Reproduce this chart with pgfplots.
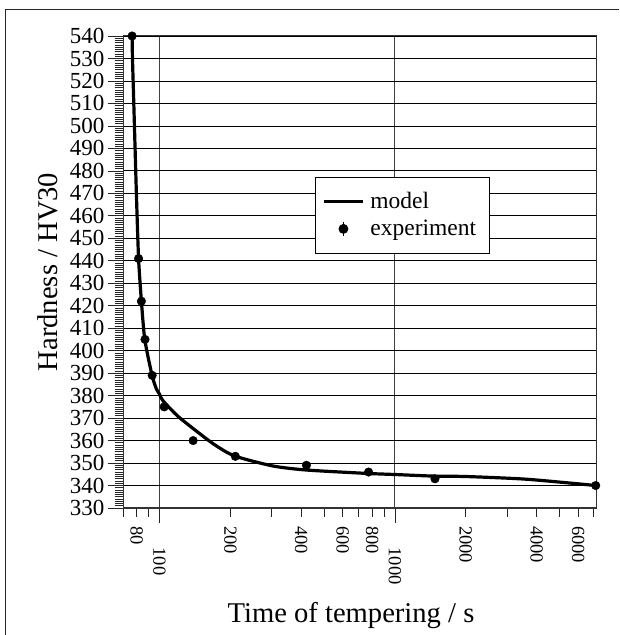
\documentclass[border=0pt]{standalone}
\usepackage{pgfplots}
\pgfplotsset{compat=1.18}
\usepackage{fontspec}
\setmainfont{Liberation Serif}
\begin{document}
\begin{tikzpicture}
\useasboundingbox (0pt,0pt) rectangle (619pt,635pt);
\draw[line width=1pt, black!85] (5.5pt,0pt) -- (5.5pt,625.5pt) -- (619pt,625.5pt);
\begin{axis}[
  at={(123pt,127pt)}, anchor=south west,
  scale only axis, width=473pt, height=472pt,
  xmode=log, xmin=70, xmax=7150, ymin=330, ymax=540,
  ytick={330,340,...,540},
  minor y tick num=9,
  tick pos=left, tick align=outside,
  major tick length=15pt, minor tick length=8.5pt,
  every tick/.style={black!85, line width=0.7pt},
  axis line style={black!80, line width=1pt},
  ymajorgrids, major y grid style={black, line width=0.8pt},
  xtick={100,1000},
  xticklabels={100,1000},
  xticklabel shift=21pt,
  xmajorgrids, major x grid style={black!75, line width=1pt},
  minor xtick={70,90,300,500,700,900,3000,5000,7000},
  extra x ticks={80,200,400,600,800,2000,4000,6000},
  extra x tick labels={80,200,400,600,800,2000,4000,6000},
  extra x tick style={xmajorgrids=false, major tick length=8.5pt, xticklabel shift=0pt,
     xticklabel style={xshift=6pt}},
  /pgf/number format/assume math mode=true,
  yticklabel style={font=\fontsize{23}{23}\selectfont},
  xticklabel style={font=\fontsize{18.5}{18.5}\selectfont, rotate=-90, anchor=west},
  xlabel={Time of tempering / s},
  ylabel={Hardness / HV30},
  label style={font=\fontsize{28.6}{28.6}\selectfont},
  xlabel style={at={(axis description cs:0.482,0)}, anchor=base, yshift=-114pt},
  ylabel style={at={(axis description cs:-0.1586,0.5)}, anchor=center},
  legend style={at={(0.406,0.702)}, anchor=north west, draw=black, line width=0.8pt,
     font=\fontsize{23.5}{26}\selectfont, inner xsep=7pt, inner ysep=13.5pt,
     row sep=6pt, nodes={inner xsep=6pt}},
  legend cell align=left,
]
\addplot[black, line width=3.2pt, smooth, tension=0.4, no markers,
  legend image code/.code={\draw[line width=3pt] (0pt,0pt) -- (39pt,0pt);}] coordinates {
(76.5,540)(76.8,530)(77.8,510)(79.8,470)(81.5,441)(83.8,422)(86.6,405)(93.0,389)
(97,383)(100,380.7)(103,378)(121,370.4)(168,358.8)(208,353.2)(303,348.7)(420,346.9)
(755,345.4)(1000,344.9)(1452,344.2)(2013,344)(3630,342.8)(7130,340)};
\addlegendentry{model}
\addplot[only marks, mark=*, mark size=4.3pt, black,
  legend image code/.code={\draw[line width=1.2pt] (19.5pt,-7pt) -- (19.5pt,7pt); \fill (19.5pt,0pt) circle (4.5pt); \path[draw=none] (0pt,0pt) -- (39pt,0pt);}]
 coordinates {
(76.5,540)(81.5,441)(83.8,422)(86.8,405)(93.1,389)(104.7,375)(139,360)(210,353)
(421,349)(773,346)(1480,343)(7130,340)};
\addlegendentry{experiment}
\end{axis}
\end{tikzpicture}
\end{document}
